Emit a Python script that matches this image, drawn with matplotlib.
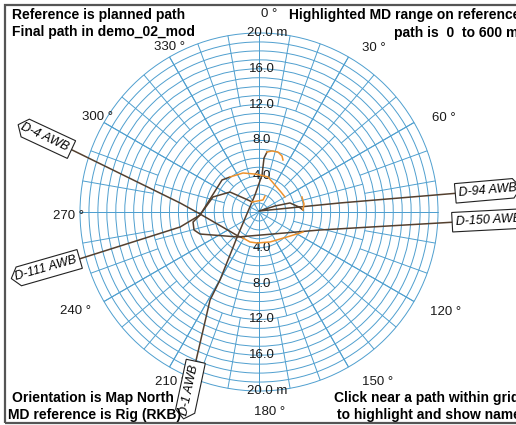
import numpy as np
import matplotlib
matplotlib.use("Agg")
import matplotlib.pyplot as plt
from matplotlib.patches import Circle, Rectangle
from matplotlib.path import Path

plt.rcParams['font.family'] = ['Liberation Sans', 'DejaVu Sans']

# ---- well paths relative to the reference well (east, north offsets in m) ----
# highlighted part = MD 0-600 m on the reference, rest = deeper part up to the tag
d1_hl_e = [2.68, 2.57, 2.12, 1.45, 0.89]
d1_hl_n = [5.81, 6.26, 6.70, 6.82, 6.70]
d1_e = [0.89, 0.56, 0.34, -0.45, -2.35, -4.36, -5.47, -7.15]
d1_n = [6.70, 6.03, 4.13, 1.90, -2.57, -7.60, -9.83, -17.09]

d4_hl_e = [4.91, 4.58, 3.13, 1.23, -0.22, -1.01, -1.79]
d4_hl_n = [-2.23, -2.35, -2.79, -3.35, -3.46, -3.35, -2.90]
d4_e = [-1.79, -2.35, -6.59, -8.82, -21.33]
d4_n = [-2.90, -2.68, -0.22, 1.01, 7.15]

d111_hl_e = [2.90, 2.46, 1.01, 0.11, -0.45, -1.79, -3.24]
d111_hl_n = [1.68, 2.23, 3.91, 4.13, 4.24, 4.36, 3.91]
d111_e = [-3.24, -4.13, -6.59, -8.82, -20.44]
d111_n = [3.91, 3.58, -0.34, -1.68, -5.36]

d94_hl_e = [4.80, 5.03, 4.91]
d94_hl_n = [1.68, 0.89, 0.22]
d94_e = [4.91, 4.47, 3.46, 1.79, 0.00, 9.05, 22.35]
d94_n = [0.22, 0.56, 1.01, 0.67, 0.11, 1.01, 2.12]

d150_hl_e = [0.67, 0.45, -0.78]
d150_hl_n = [1.79, 1.34, 1.12]
d150_e = [-0.78, -1.23, -3.24, -5.14, -6.59, -7.37, -7.26, -6.59, -2.35, 6.82, 22.0]
d150_n = [1.12, 1.34, 2.23, 1.68, -0.34, -1.12, -2.01, -2.46, -2.79, -2.01, -1.12]

well_names = ["D-1 AWB", "D-4 AWB", "D-111 AWB", "D-94 AWB", "D-150 AWB"]

# ---- grid ----
ring_step = 1.0
ring_max = 20.0
radial_labels = ["4.0", "8.0", "12.0", "16.0"]
radial_label_values = [4, 8, 12, 16]
angle_labels = [0, 30, 60, 120, 150, 180, 210, 240, 270, 300, 330]

W, H = 516, 425
CX, CY = 259, 212
PX_PER_M = 8.95

GRID = '#4f9fcf'
BROWN = '#54402f'
ORANGE = '#ee922c'
TEXT = '#1a1a1a'

fig = plt.figure(figsize=(W / 100, H / 100), dpi=100)
ax = fig.add_axes([0, 0, 1, 1])
ax.set_xlim(-CX / PX_PER_M, (W - CX) / PX_PER_M)
ax.set_ylim(-(H - CY) / PX_PER_M, CY / PX_PER_M)
ax.axis('off')

for r in np.arange(ring_step, ring_max + 0.01, ring_step):
    ax.add_patch(Circle((0, 0), r, fill=False, ec=GRID, lw=0.7, zorder=1))

# spokes get denser further out
spoke_bands = [(0.0, 20.0, 30), (4.0, 12.0, 15), (12.0, 20.0, 10)]
for r0, r1, step in spoke_bands:
    for a in np.arange(0, 360, step):
        t = np.radians(a)
        ax.plot([r0 * np.sin(t), r1 * np.sin(t)], [r0 * np.cos(t), r1 * np.cos(t)],
                color=GRID, lw=0.7, zorder=1, solid_capstyle='butt')

# ring values along the north/south axis
for lab, v in zip(radial_labels, radial_label_values):
    for sgn in (1, -1):
        ax.text(0.3, sgn * v, lab, ha='center', va='center', fontsize=9.5,
                color=TEXT, zorder=3)
for sgn in (1, -1):
    ax.text(-1.3, sgn * ring_max, f"{ring_max:.1f} m", ha='left', va='center',
            fontsize=9.5, color=TEXT, zorder=3)

# azimuth labels (east, north of each label centre in m)
angle_label_pos = {0: (1.1, 22.1), 30: (12.8, 18.3), 60: (20.6, 10.5),
                   120: (20.8, -11.2), 150: (13.3, -19.0), 180: (1.2, -22.3),
                   210: (-9.9, -19.0), 240: (-20.5, -11.1), 270: (-21.3, -0.45),
                   300: (-18.0, 10.6), 330: (-10.0, 18.4)}
for a in angle_labels:
    x, y = angle_label_pos[a]
    ax.text(x, y, f"{a} \u00b0", ha='center', va='center', fontsize=9.5,
            color=TEXT, zorder=3)

# paths
wells = [(d1_hl_e, d1_hl_n, d1_e, d1_n), (d4_hl_e, d4_hl_n, d4_e, d4_n),
         (d111_hl_e, d111_hl_n, d111_e, d111_n), (d94_hl_e, d94_hl_n, d94_e, d94_n),
         (d150_hl_e, d150_hl_n, d150_e, d150_n)]
for he, hn, e, n in wells:
    ax.plot(e, n, color=BROWN, lw=1.1, zorder=4, solid_joinstyle='round')
    ax.plot(he, hn, color=ORANGE, lw=1.1, zorder=5, solid_joinstyle='round')


def tag_left(x0, y0, width, height, mutation_size):
    pad = 0.3 * mutation_size
    x0, y0, width, height = x0 - pad, y0 - pad, width + 2 * pad, height + 2 * pad
    tip = 0.4 * height
    return Path([(x0, y0 + height / 2), (x0 + tip, y0), (x0 + width, y0),
                 (x0 + width, y0 + height), (x0 + tip, y0 + height),
                 (x0, y0 + height / 2)], closed=True)


def tag_right(x0, y0, width, height, mutation_size):
    pad = 0.3 * mutation_size
    x0, y0, width, height = x0 - pad, y0 - pad, width + 2 * pad, height + 2 * pad
    tip = 0.4 * height
    return Path([(x0, y0), (x0 + width - tip, y0), (x0 + width, y0 + height / 2),
                 (x0 + width - tip, y0 + height), (x0, y0 + height), (x0, y0)],
                closed=True)


tag_style = [(tag_left, 'right', 78), (tag_left, 'right', -25), (tag_left, 'right', 16),
             (tag_right, 'left', 5), (tag_right, 'left', 3)]
for (he, hn, e, n), name, (shape, ha, rot) in zip(wells, well_names, tag_style):
    ax.text(e[-1], n[-1], name, ha=ha, va='center', rotation=rot,
            rotation_mode='anchor', fontsize=9, style='italic', color='black',
            zorder=6,
            bbox=dict(boxstyle=shape, fc='white', ec='#222222', lw=0.8))


# captions in the four corners
def fig_text(px, py, s, **kw):
    fig.text(px / W, 1 - py / H, s, fontsize=10, fontweight='bold', color='black',
             va='center', **kw)


fig_text(12, 15, "Reference is planned path")
fig_text(12, 32, "Final path in demo_02_mod")
fig_text(289, 15, "Highlighted MD range on reference")
fig_text(394, 33, "path is  0  to 600 m")
fig_text(93, 398, "Orientation is Map North", ha='center')
fig_text(95, 415, "MD reference is Rig (RKB)", ha='center')
fig_text(334, 398, "Click near a path within grid")
fig_text(337, 415, "to highlight and show name")

fig.add_artist(Rectangle((5 / W, 2 / H), 1.2, 1 - 7 / H, transform=fig.transFigure,
                         fill=False, ec='#555555', lw=1.6))

fig.savefig('out.png', dpi=100, facecolor='white')
